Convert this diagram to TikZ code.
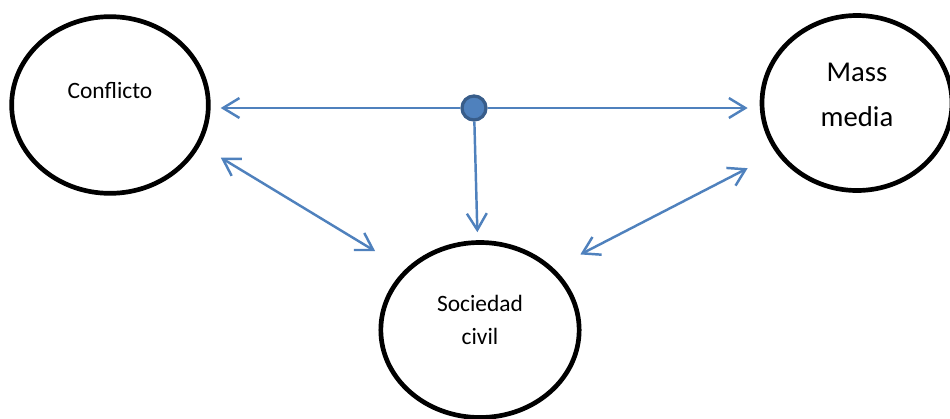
\documentclass[tikz,border=0pt]{standalone}
\usepackage{fontspec}
\setmainfont{Carlito}
\usetikzlibrary{shapes.geometric, arrows.meta}

\definecolor{flowblue}{HTML}{4F81BD}
\definecolor{hubedge}{HTML}{385D8A}

\begin{document}
\begin{tikzpicture}[
         x=0.03cm, y=-0.03cm,
         party/.style={ellipse, draw, line width=4pt, inner sep=0pt},
         partytext/.style={font=\fontsize{20}{28}\selectfont, align=center},
         flow/.style={draw=flowblue, line width=2.1pt,
            {Straight Barb[length=14pt, width=17pt]}-{Straight Barb[length=14pt, width=17pt]}},
         oneway/.style={draw=flowblue, line width=2.1pt, -{Straight Barb[length=14pt, width=17pt]}},
         hub/.style={circle, fill=flowblue, draw=hubedge, line width=2.8pt, inner sep=0pt, minimum size=0.72cm}
      ]
         \useasboundingbox (0,0) rectangle (950,418);

         % Actors
         \node[party, minimum width=5.9cm, minimum height=5.3cm] (conf) at (110,105) {};
         \node[party, minimum width=5.7cm, minimum height=5.25cm] (media) at (857,103) {};
         \node[party, minimum width=5.95cm, minimum height=5.25cm] (soc) at (480,330) {};

         \node[partytext] (conftext) at ([yshift=0.42cm]conf.center) {Conflicto};
         \node[partytext, font=\fontsize{24.5}{38}\selectfont] (mediatext) at ([yshift=0.24cm]media.center) {Mass\\media};
         \node[partytext] (soctext) at ([yshift=0.3cm]soc.center) {Sociedad\\civil};

         % Hub point and arrows
         \node[hub] (dot) at (474,108) {};
         \draw[oneway, shorten >=0.3cm] (dot.west) -- (dot -| conf.east);
         \draw[oneway, shorten >=0.36cm] (dot.east) -- (dot -| media.west);
         \draw[oneway, shorten >=0.24cm] (dot) -- (soc);

         \draw[flow, shorten <=0.72cm, shorten >=1.05cm] (conf.-24) -- (soc.141);
         \draw[flow, shorten <=0.9cm, shorten >=0.97cm] (soc.40) -- (media.212);
      \end{tikzpicture}
\end{document}
